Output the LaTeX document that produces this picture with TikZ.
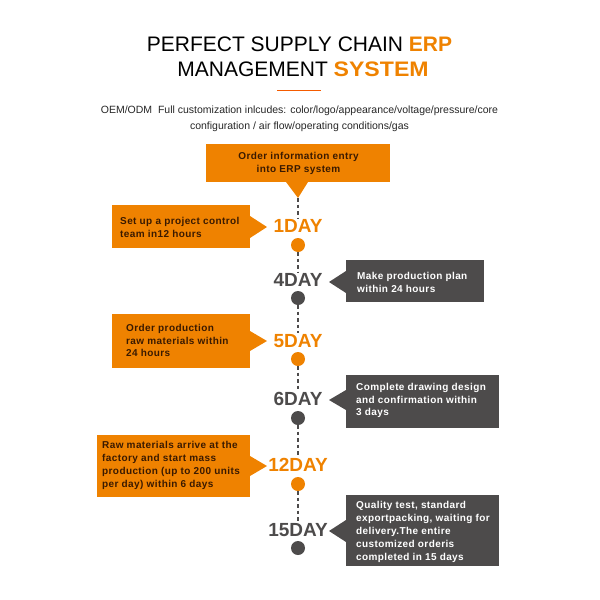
\documentclass[tikz,border=0pt]{standalone}
\usepackage{fontspec}
\setmainfont{Liberation Sans}
\newfontface\boxface[LetterSpace=4]{Liberation Sans Bold}
\newfontface\wideface[FakeStretch=1.1]{Liberation Sans Bold}
\usetikzlibrary{calc}
\definecolor{erporange}{HTML}{EF8200}
\definecolor{erpgray}{HTML}{4D4B4B}
\definecolor{erpbrown}{HTML}{3A1A00}
\tikzset{
    orangebox/.style = {text = erpbrown, font = \boxface\fontsize{10}{12.9}\selectfont, align = left, anchor = west, inner sep = 0pt},
    graybox/.style = {text = white, font = \boxface\fontsize{10}{12.9}\selectfont, align = left, anchor = west, inner sep = 0pt},
    daylabel/.style = {font = \bfseries\fontsize{19}{19}\selectfont, inner sep = 1pt},
    daydot/.style = {circle, minimum size = 14pt, inner sep = 0pt},
    timeline/.style = {erpgray, line width = 1.5pt, dash pattern = on 3.5pt off 3pt}
}

\begin{document}
\begin{tikzpicture}[x = 1pt, y = -1pt, line join = round]
    \useasboundingbox (0,0) rectangle (600,600);

    % heading
    \node (title) at (299.5,56.5) [align = center, font = \fontsize{21}{25}\selectfont] {PERFECT SUPPLY CHAIN \textcolor{erporange}{\textbf{ERP}}\\\hspace*{7pt}MANAGEMENT \textcolor{erporange}{\wideface SYSTEM}};
    \draw[erporange!70!red, line width = 1.2pt] (277,90.5) -- (321,90.5);
    \node (intro) at (299.5,119) [align = center, text = black!85, font = \fontsize{10.5}{16}\selectfont] {OEM/ODM\ \ Full customization inlcudes: color/logo/appearance/voltage/pressure/core\\configuration / air flow/operating conditions/gas};

    % boxes
    \fill[erporange] (206,144) rectangle (390,182);
    \fill[erporange] (286,182) -- (298,198) -- (308,182) -- cycle;
    \node (entry) at (298.5,163) [text = erpbrown, align = center, font = \boxface\fontsize{10}{12.9}\selectfont] {Order information entry\\ into ERP system};
    \coordinate (tip) at (298,198);

    \fill[erporange] (112,205) rectangle (250,248);
    \fill[erporange] (250,216) -- (267,227) -- (250,238) -- cycle;
    \node (plan1) at (120,227) [orangebox] {Set up a project control\\team in12 hours};

    \fill[erpgray] (346,260) rectangle (484,302);
    \fill[erpgray] (346,271) -- (329,282) -- (346,293) -- cycle;
    \node (plan4) at (357,282) [graybox] {Make production plan\\within 24 hours};

    \fill[erporange] (112,314) rectangle (250,368);
    \fill[erporange] (250,331) -- (267,341) -- (250,351) -- cycle;
    \node (plan5) at (126,340.5) [orangebox] {Order production\\raw materials within\\24 hours};

    \fill[erpgray] (346,375) rectangle (499,428);
    \fill[erpgray] (346,390) -- (329,400) -- (346,410) -- cycle;
    \node (plan6) at (356,400.5) [graybox] {Complete drawing design\\and confirmation within\\3 days};

    \fill[erporange] (97,435) rectangle (250,497);
    \fill[erporange] (250,456) -- (267,466) -- (250,476) -- cycle;
    \node (plan12) at (102,465.5) [orangebox] {Raw materials arrive at the\\factory and start mass\\production (up to 200 units\\per day) within 6 days};

    \fill[erpgray] (346,495) rectangle (499,566);
    \fill[erpgray] (346,520) -- (329,531) -- (346,542) -- cycle;
    \node (plan15) at (356,532) [graybox] {Quality test, standard\\exportpacking, waiting for\\delivery.The entire\\customized orderis\\completed in 15 days};

    % days and dots
    \node (day1) at (298,226) [daylabel, text = erporange] {1DAY};
    \node (dot1) at (298,245) [daydot, fill = erporange] {};
    \node (day4) at (298,280) [daylabel, text = erpgray] {4DAY};
    \node (dot4) at (298,298) [daydot, fill = erpgray] {};
    \node (day5) at (298,341) [daylabel, text = erporange] {5DAY};
    \node (dot5) at (298,359) [daydot, fill = erporange] {};
    \node (day6) at (298,399) [daylabel, text = erpgray] {6DAY};
    \node (dot6) at (298,418) [daydot, fill = erpgray] {};
    \node (day12) at (298,465) [daylabel, text = erporange] {12DAY};
    \node (dot12) at (298,484) [daydot, fill = erporange] {};
    \node (day15) at (298,530) [daylabel, text = erpgray] {15DAY};
    \node (dot15) at (298,548) [daydot, fill = erpgray] {};

    % dashed line
    \draw[timeline] (tip) -- (day1);
    \draw[timeline] (dot1) -- (day4);
    \draw[timeline] (dot4) -- (day5);
    \draw[timeline] (dot5) -- (day6);
    \draw[timeline] (dot6) -- (day12);
    \draw[timeline] (dot12) -- (day15);

\end{tikzpicture}
\end{document}
